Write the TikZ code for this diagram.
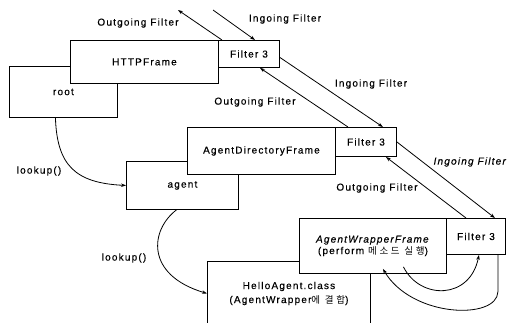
\documentclass[tikz,border=0pt]{standalone}
\usepackage{fontspec}
\setmainfont{Liberation Sans}[LetterSpace=12,FakeBold=0.4]
\newfontfamily\kr{Noto Sans CJK KR}[LetterSpace=28,Scale=0.95]
\usetikzlibrary{arrows.meta}
\begin{document}
\begin{tikzpicture}[x=1pt,y=-1pt,
  box/.style={draw,fill=white,line width=0.9pt,anchor=north west,inner sep=0pt,align=center,font=\fontsize{10}{12}\selectfont},
  lbl/.style={inner sep=0pt,font=\fontsize{10}{12}\selectfont},
  arr/.style={line width=0.8pt,-{Stealth[length=5pt,width=3.5pt]}}]
\useasboundingbox (0,0) rectangle (507,322);
\clip (0,0) rectangle (507,322);
% boxes, back to front
\node[box,minimum width=108pt,minimum height=51pt] (root) at (9,66) {root};
\node[box,minimum width=148pt,minimum height=43pt] (http) at (70,40) {HTTPFrame};
\node[box,minimum width=61pt,minimum height=27pt] (f1) at (218,40) {Filter 3};
\node[box,minimum width=112pt,minimum height=48pt] (agent) at (126,161) {agent};
\node[box,minimum width=148pt,minimum height=47pt] (adf) at (187,127) {AgentDirectoryFrame};
\node[box,minimum width=61pt,minimum height=29pt] (f2) at (335,127) {Filter 3};
\node[box,minimum width=163pt,minimum height=64pt,font=\fontsize{10}{14}\selectfont] (hello) at (207,261) {HelloAgent.class\\(AgentWrapper{\kr 에 결합})};
\node[box,minimum width=147pt,minimum height=55pt,font=\fontsize{10}{11.5}\selectfont] (aw) at (299,218) {\textit{AgentWrapperFrame}\\(perform {\kr 메소드 실행})};
\node[box,minimum width=59pt,minimum height=36pt] (f3) at (446,218) {Filter 3};
% free ends
\coordinate (o1) at (178,10);
\coordinate (i1) at (213,10);
% filter arrows
\draw[arr] ([xshift=4pt]f1.north west) -- (o1);
\draw[arr] (i1) -- ([xshift=37pt]f1.north west);
\draw[arr] ([yshift=-3.5pt]f1.east) -- ([xshift=-14pt]f2.north east);
\draw[arr] ([xshift=13pt]f2.north west) -- ([xshift=11pt]f1.south);
\draw[arr] (f2.east) -- ([xshift=-11pt]f3.north east);
\draw[arr] ([xshift=20pt]f3.north west) -- ([xshift=-11pt]f2.south east);
% lookups
\draw[arr] ([xshift=-8pt]root.south) .. controls (57,165) and (75,183) .. (agent.west);
\draw[arr] ([xshift=-6pt]agent.south) .. controls (150,230) and (145,275) .. (hello.west);
% loops at the bottom
\draw[arr] ([xshift=30.5pt,yshift=7pt]aw.south) .. controls (420,300) and (470,300) .. ([xshift=3pt]f3.south);
\draw[arr] ([xshift=-8pt]f3.south east) -- ++(0,37) .. controls (497,320) and (412,318) .. ([xshift=10pt,yshift=5pt]aw.south);
% labels
\node[lbl] (lo1) at (138,23) {Outgoing Filter};
\node[lbl] (li1) at (285,19) {Ingoing Filter};
\node[lbl] (li2) at (371,84) {Ingoing Filter};
\node[lbl] (lo2) at (255,102) {Outgoing Filter};
\node[lbl,font=\fontsize{10}{12}\selectfont\itshape,anchor=east] (li3) at (506,162) {Ingoing Filter};
\node[lbl] (lo3) at (377,188) {Outgoing Filter};
\node[lbl] (lk1) at (39,171) {lookup()};
\node[lbl] (lk2) at (124,258) {lookup()};
\end{tikzpicture}
\end{document}
